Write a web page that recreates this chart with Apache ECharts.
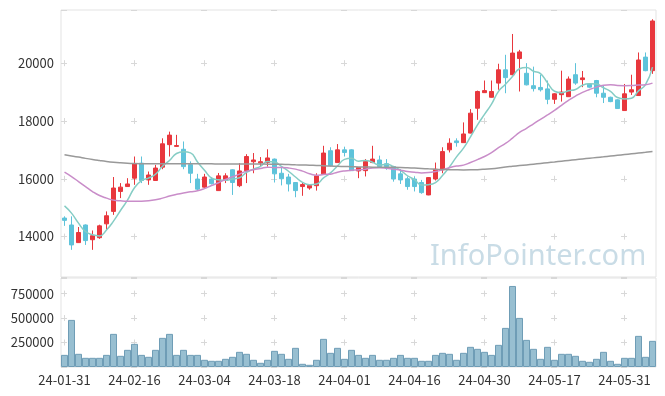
<!DOCTYPE html>
<html>
<head>
<meta charset="utf-8">
<script src="https://cdn.jsdelivr.net/npm/echarts@6/dist/echarts.min.js"></script>
<style>
html,body{margin:0;padding:0;background:#fff;}
#chart{width:665px;height:396px;}
</style>
</head>
<body>
<div id="chart"></div>
<script>
var dates = ['24-01-31','24-02-01','24-02-02','24-02-05','24-02-06','24-02-07','24-02-08','24-02-13','24-02-14','24-02-15',
'24-02-16','24-02-19','24-02-20','24-02-21','24-02-22','24-02-23','24-02-26','24-02-27','24-02-28','24-02-29',
'24-03-04','24-03-05','24-03-06','24-03-07','24-03-08','24-03-11','24-03-12','24-03-13','24-03-14','24-03-15',
'24-03-18','24-03-19','24-03-20','24-03-21','24-03-22','24-03-25','24-03-26','24-03-27','24-03-28','24-03-29',
'24-04-01','24-04-02','24-04-03','24-04-04','24-04-05','24-04-08','24-04-09','24-04-11','24-04-12','24-04-15',
'24-04-16','24-04-17','24-04-18','24-04-19','24-04-22','24-04-23','24-04-24','24-04-25','24-04-26','24-04-29',
'24-04-30','24-05-02','24-05-03','24-05-07','24-05-08','24-05-09','24-05-10','24-05-13','24-05-14','24-05-16',
'24-05-17','24-05-20','24-05-21','24-05-22','24-05-23','24-05-24','24-05-27','24-05-28','24-05-29','24-05-30',
'24-05-31','24-06-03','24-06-04','24-06-05','24-06-07'];

var opens = [14640,14400,13790,14400,13890,13960,14440,14870,15560,15730,
16020,16540,15960,15940,16400,17180,17120,17020,16490,15990,
15710,15990,15590,15960,16310,15760,16280,16590,16550,16560,
16680,16190,16060,15870,15730,15680,15760,16170,16970,16560,
17000,17000,16270,16280,16560,16650,16520,16420,16170,16000,
15990,15870,15440,15990,16310,17000,17310,17250,17580,18440,
18980,18820,19310,19770,19600,20160,19650,19220,19160,19110,
18750,18910,18840,19600,19430,19280,19400,18960,18820,18730,
18360,19000,18880,20210,19740];

var closes = [14560,13710,14140,13860,14030,14370,14720,15680,15710,15820,
16520,15940,16130,16370,17210,17510,17150,16420,16190,15640,
16060,15830,16100,16100,15870,16270,16770,16650,16590,16720,
16170,16000,15820,15590,15800,15770,16100,16890,16450,17000,
16910,16280,16390,16600,16680,16420,16420,15990,15960,15730,
15730,15520,16040,16330,16940,17230,17250,17550,18270,19020,
19050,19020,19770,19500,20350,20390,19250,19120,19080,18750,
18940,19000,19450,19310,19490,19170,18960,18820,18670,18430,
18940,19080,20110,19740,21460];

var lows = [14370,13540,13780,13710,13540,13920,14230,14750,15330,15720,
15790,15850,15790,15930,16330,16770,17110,16330,15850,15590,
15690,15800,15580,15850,15440,15710,15850,16190,16420,16420,
15870,15770,15560,15360,15410,15620,15590,16160,16420,16550,
16770,16270,16020,16080,16540,16410,16310,15900,15820,15620,
15560,15480,15430,15940,16190,16910,17110,17240,17570,18040,
18970,18810,19080,18960,19580,19020,19230,19020,19020,18580,
18590,18670,18830,19250,19170,19150,18820,18620,18650,18420,
18350,18900,18870,19720,19630];

var highs = [14700,14700,14330,14420,14210,14410,14870,16060,15850,16020,
16770,16770,16250,16480,17400,17630,17520,17290,16600,16170,
16170,16060,16200,16190,16330,16540,16850,16890,16750,17020,
16700,16420,16170,15880,15870,15790,16190,17140,17090,17200,
17110,17020,16400,16680,17140,16800,16680,16440,16330,16080,
16080,15960,16060,16560,17090,17400,17400,17950,18410,19050,
19400,19400,19980,20290,21010,20460,20000,19880,19600,19400,
18960,19740,19540,20000,19730,19310,19420,19210,18840,18750,
19280,19600,20370,20370,21520];

var volumes = [124000,481600,134700,93900,93900,93900,124000,338800,114300,175500,
236700,124000,104100,175500,298000,338800,124000,175500,124000,124000,
73500,63300,63300,83700,104100,155100,134700,73500,42900,73500,
165300,134700,83700,195900,32700,22400,73500,287800,144900,195900,
83700,175500,124000,93900,124000,73500,73500,93900,124000,93900,
93900,63300,63300,124000,144900,134700,73500,144900,206100,185700,
155100,124000,226500,400000,828600,502000,277500,185700,83700,206100,
73500,134700,134700,114300,63300,53100,83700,155100,63300,32700,
93900,93900,318400,104100,267300];

var ma5 = [15060,14810,14464,14175,14060,14022,14224,14532,14902,15260,
15690,15934,16024,16156,16434,16632,16874,16932,16896,16582,
16292,16028,15964,15946,15992,16034,16222,16332,16430,16600,
16580,16426,16260,16060,15876,15796,15816,16030,16202,16442,
16670,16706,16606,16636,16572,16474,16502,16422,16294,16104,
15966,15786,15796,15870,16112,16412,16758,17060,17448,17864,
18228,18582,19026,19272,19538,19806,19852,19722,19638,19318,
19028,18978,19044,19090,19238,19284,19276,19150,19022,18810,
18764,18788,19042,19256,19862];

var ma20 = [16229,16076,15903,15730,15557,15419,15329,15260,15236,15225,
15225,15225,15236,15270,15329,15400,15460,15510,15550,15584,
15659,15765,15863,15975,16067,16162,16265,16313,16357,16402,
16385,16388,16372,16333,16263,16176,16123,16147,16160,16228,
16270,16293,16307,16332,16373,16380,16363,16330,16298,16249,
16227,16203,16214,16251,16308,16381,16438,16471,16562,16663,
16770,16907,17076,17221,17405,17603,17745,17901,18057,18208,
18369,18543,18713,18862,18990,19087,19172,19236,19256,19226,
19221,19224,19241,19253,19308];

var ma120 = [16827,16790,16750,16705,16665,16630,16598,16572,16552,16537,
16527,16521,16518,16516,16515,16515,16515,16515,16515,16515,
16515,16515,16514,16513,16512,16511,16510,16509,16508,16506,
16504,16498,16490,16482,16475,16468,16459,16450,16441,16432,
16424,16417,16411,16406,16402,16400,16398,16396,16390,16380,
16368,16355,16342,16330,16320,16313,16308,16306,16308,16315,
16330,16350,16375,16405,16430,16455,16480,16505,16530,16555,
16580,16606,16632,16658,16684,16710,16735,16760,16786,16812,
16838,16864,16890,16915,16941];

var priceMin = 12600, priceMax = 21840;
var volMax = 910000;

var candleData = dates.map(function (d, i) {
  return [opens[i], closes[i], lows[i], highs[i]];
});

var chart = echarts.init(document.getElementById('chart'), null, {renderer: 'canvas'});
var labelFont = {color: '#333', fontSize: 13, fontFamily: '"Noto Sans CJK KR", "Noto Sans", sans-serif'};
var plain = function (v) { return String(v); };
var gridBorder = '#e3e3e3';
var crossColor = '#d8d8d8';

var option = {
  animation: false,
  backgroundColor: '#fff',
  grid: [
    {left: 61, right: 9, top: 10, height: 267, show: true, borderColor: gridBorder, borderWidth: 1, backgroundColor: 'transparent'},
    {left: 61, right: 9, top: 278, height: 89, show: true, borderColor: gridBorder, borderWidth: 1, backgroundColor: 'transparent'}
  ],
  xAxis: [
    {
      type: 'category', gridIndex: 0, data: dates, boundaryGap: true,
      axisLine: {show: false}, axisTick: {show: false}, axisLabel: {show: false},
      splitLine: {show: true, interval: 9, alignWithLabel: true,
        lineStyle: {color: crossColor, width: 1, type: [6, 51.8], dashOffset: 7.6}}
    },
    {
      type: 'category', gridIndex: 1, data: dates, boundaryGap: true,
      axisLine: {show: false}, axisTick: {show: false},
      axisLabel: Object.assign({interval: 9, margin: 7}, labelFont),
      splitLine: {show: true, interval: 9, alignWithLabel: true,
        lineStyle: {color: crossColor, width: 1, type: [6, 18.45], dashOffset: 11.85}}
    }
  ],
  yAxis: [
    {
      type: 'value', gridIndex: 0, min: priceMin, max: priceMax, splitNumber: 5,
      axisLine: {show: false}, axisTick: {show: false},
      axisLabel: Object.assign({margin: 7, showMinLabel: false, showMaxLabel: false, formatter: plain}, labelFont),
      splitLine: {show: true, lineStyle: {color: crossColor, width: 1, type: [6, 64], dashOffset: 0}}
    },
    {
      type: 'value', gridIndex: 1, min: 0, max: volMax, interval: 250000,
      axisLine: {show: false}, axisTick: {show: false},
      axisLabel: Object.assign({margin: 7, showMinLabel: false, showMaxLabel: false, formatter: plain}, labelFont),
      splitLine: {show: true, lineStyle: {color: crossColor, width: 1, type: [6, 64], dashOffset: 0}}
    }
  ],
  graphic: [
    {type: 'text', left: 430, top: 242, z: 0, silent: true,
      style: {text: 'InfoPointer.com', fill: '#c9dce6', font: '29px "Noto Sans", sans-serif'}}
  ],
  series: [
    {
      name: 'candle', type: 'candlestick', xAxisIndex: 0, yAxisIndex: 0,
      data: candleData, barWidth: 5,
      itemStyle: {color: '#e8373d', color0: '#5ec3da', borderColor: '#e8373d', borderColor0: '#5ec3da', borderWidth: 1}
    },
    {
      name: 'MA5', type: 'line', xAxisIndex: 0, yAxisIndex: 0, data: ma5,
      smooth: true, showSymbol: false, lineStyle: {color: '#86cdc5', width: 1.5}
    },
    {
      name: 'MA20', type: 'line', xAxisIndex: 0, yAxisIndex: 0, data: ma20,
      smooth: true, showSymbol: false, lineStyle: {color: '#c98dc9', width: 1.5}
    },
    {
      name: 'MA120', type: 'line', xAxisIndex: 0, yAxisIndex: 0, data: ma120,
      smooth: true, showSymbol: false, lineStyle: {color: '#999999', width: 1.5}
    },
    {
      name: 'volume', type: 'bar', xAxisIndex: 1, yAxisIndex: 1, data: volumes,
      barWidth: '100%',
      itemStyle: {color: '#98bfd1', borderColor: '#6f9db6', borderWidth: 1}
    }
  ]
};
chart.setOption(option);
</script>
</body>
</html>
